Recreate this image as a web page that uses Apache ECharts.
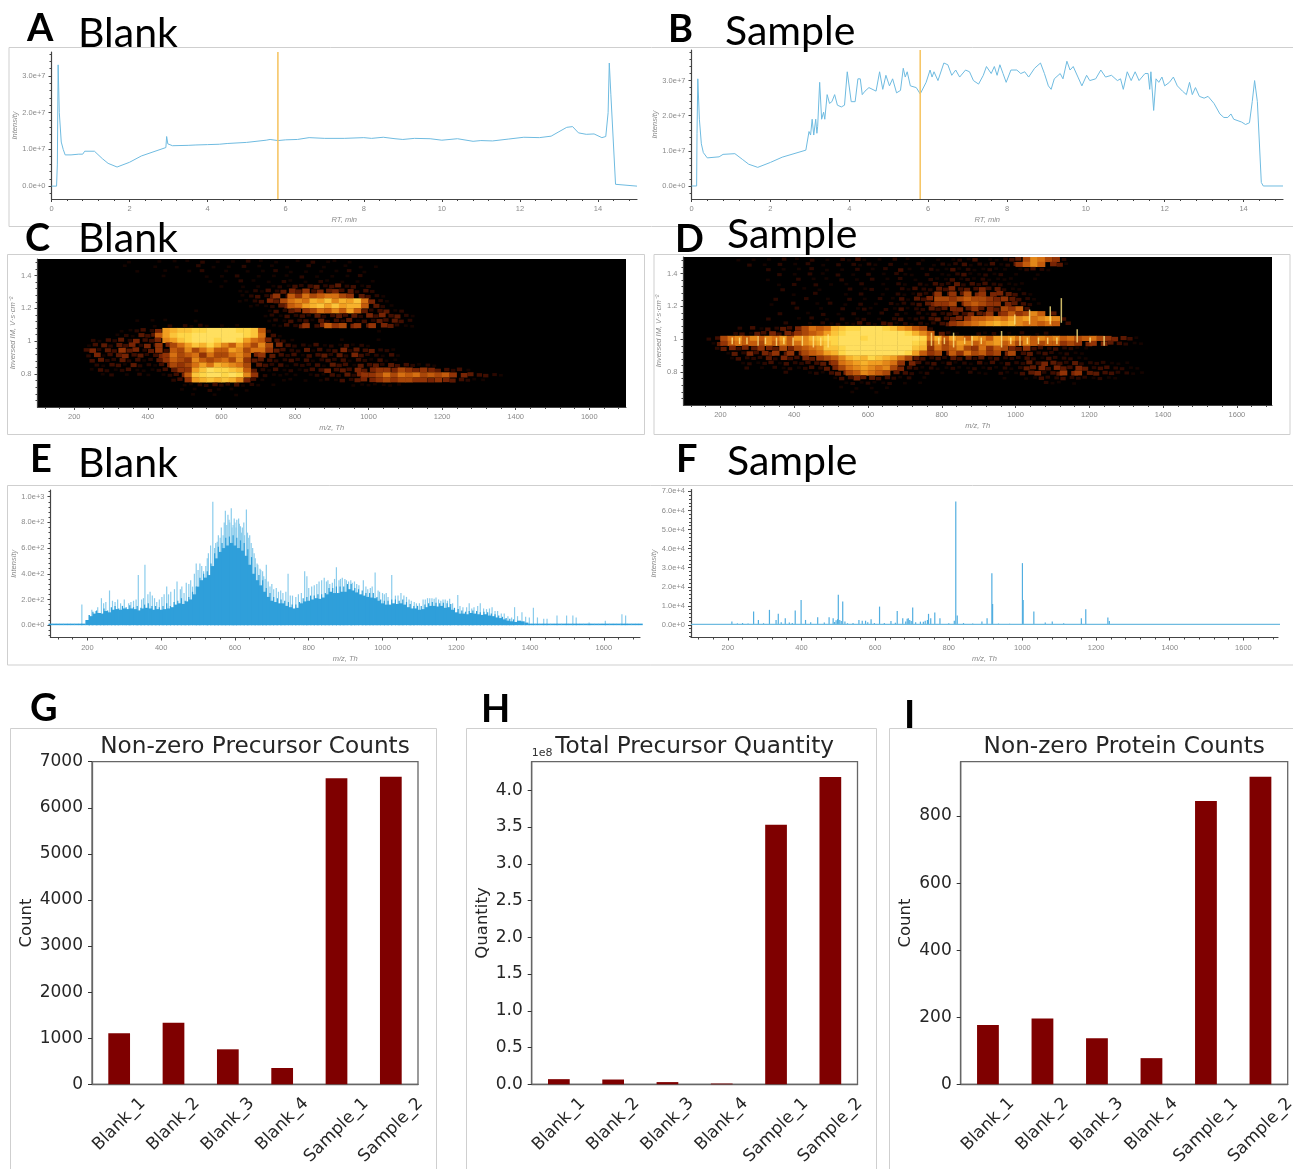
<!DOCTYPE html>
<html><head><meta charset="utf-8">
<style>html,body{margin:0;padding:0;background:#fff}#c{width:1293px;height:1169px}</style>
<script src="https://cdn.jsdelivr.net/npm/echarts@6/dist/echarts.min.js"></script>
</head><body><div id="c"></div>
<script>
// ---------- Panel A / B: total ion chromatograms [RT min, intensity in 1e7] ----------
const ticBlank = [[0,0],[0.13,0],[0.15,0.6],[0.17,3.3],[0.2,2.0],[0.25,1.2],[0.3,1.0],[0.35,0.85],[0.4,0.8],[0.5,0.85],[0.7,0.87],[0.8,0.87],[0.85,0.95],[1.1,0.95],[1.3,0.75],[1.45,0.62],[1.68,0.52],[2.0,0.65],[2.3,0.82],[2.6,0.93],[2.93,1.05],[2.95,1.35],[2.98,1.15],[3.1,1.1],[3.5,1.11],[3.7,1.12],[4,1.13],[4.3,1.14],[4.5,1.16],[5,1.19],[5.5,1.25],[5.6,1.27],[5.8,1.24],[6,1.26],[6.3,1.27],[6.6,1.32],[7,1.3],[7.5,1.3],[8,1.32],[8.2,1.3],[8.5,1.33],[8.8,1.29],[9,1.27],[9.3,1.3],[9.7,1.29],[10,1.25],[10.4,1.29],[10.8,1.22],[11,1.24],[11.3,1.23],[11.7,1.28],[12.1,1.33],[12.5,1.32],[12.8,1.36],[13,1.48],[13.2,1.6],[13.35,1.62],[13.37,1.66],[13.5,1.45],[13.7,1.41],[13.9,1.42],[14.1,1.32],[14.2,1.35],[14.26,2],[14.29,3.35],[14.33,2.5],[14.45,0.05],[14.5,0],[15,0]];
const ticSample = [[0,0],[0.13,0],[0.14,1.5],[0.16,3.05],[0.2,1.9],[0.25,1.2],[0.3,0.95],[0.4,0.8],[0.7,0.83],[0.8,0.9],[1.1,0.92],[1.3,0.75],[1.45,0.62],[1.68,0.53],[2,0.67],[2.3,0.82],[2.9,1.02],[2.93,1.05],[2.98,1.55],[3.02,1.45],[3.06,1.9],[3.1,1.45],[3.15,1.9],[3.18,1.5],[3.2,1.7],[3.25,2.95],[3.3,1.9],[3.35,2.1],[3.38,1.9],[3.44,2.6],[3.5,2.35],[3.56,2.4],[3.63,2.6],[3.7,2.3],[3.8,2.25],[3.88,2.3],[3.95,3.25],[4.05,2.4],[4.15,2.4],[4.22,3.05],[4.28,3.05],[4.33,2.6],[4.4,2.7],[4.5,2.8],[4.68,2.7],[4.77,3.25],[4.85,2.75],[4.93,3.15],[5.02,2.85],[5.1,3.05],[5.2,2.65],[5.3,2.72],[5.37,3.35],[5.42,3.1],[5.47,3.25],[5.55,2.85],[5.7,2.8],[5.8,2.62],[5.95,2.95],[6.05,3.3],[6.1,3.1],[6.15,3.25],[6.25,3.0],[6.4,3.5],[6.5,3.45],[6.6,3.15],[6.7,3.3],[6.8,3.1],[6.95,3.3],[7.05,3.25],[7.15,3.0],[7.28,2.9],[7.4,3.15],[7.48,3.4],[7.6,3.2],[7.68,3.4],[7.75,3.15],[7.82,3.45],[7.9,3.2],[7.98,2.95],[8.1,3.3],[8.25,3.3],[8.35,3.2],[8.45,3.25],[8.55,3.1],[8.7,3.35],[8.85,3.5],[8.95,3.2],[9.05,2.85],[9.12,2.75],[9.2,3.05],[9.35,3.2],[9.42,3.05],[9.52,3.55],[9.6,3.3],[9.68,3.4],[9.8,3.1],[9.9,2.85],[10.02,3.15],[10.1,3.0],[10.25,3.05],[10.38,3.3],[10.5,3.1],[10.65,3.15],[10.8,3.0],[10.88,3.05],[10.95,2.75],[11.05,3.25],[11.15,3.0],[11.25,3.25],[11.35,3.0],[11.5,3.2],[11.58,3.2],[11.62,2.75],[11.65,3.25],[11.72,2.15],[11.78,3.05],[11.85,2.95],[11.93,3.1],[12,2.85],[12.12,2.95],[12.22,3.1],[12.32,2.85],[12.45,2.7],[12.55,2.6],[12.63,2.95],[12.7,2.6],[12.78,2.8],[12.88,2.55],[13,2.5],[13.1,2.55],[13.25,2.35],[13.4,2.05],[13.5,1.95],[13.6,1.95],[13.68,2.05],[13.75,1.9],[13.95,1.82],[14.05,1.75],[14.15,1.8],[14.22,2.4],[14.28,3.0],[14.35,2.4],[14.45,0.1],[14.5,0],[15,0]];
const rtMarker = 5.8;
const rtTicks = [0,2,4,6,8,10,12,14];
const ticYTicks = [0,1,2,3];

// ---------- Panel C / D: ion mobility maps. One row per 0.03 IM from 1.50 down, one hex digit per 20 m/z from 100 ----------
const imapBlank = [
"00000 00000 00100 01010 10201 01020 10100 10201 10100 00000",
"00000 00000 01000 10010 02010 10201 01010 02010 01010 10000",
"00000 00000 00010 00100 10200 10010 10201 01010 10201 00000",
"00000 00000 00000 01000 00101 02001 01010 20101 01020 00000",
"00000 00000 00000 00000 00010 10201 01021 01021 01010 10000",
"00000 00000 00000 00000 00001 00101 01213 23423 42312 00000",
"00000 00000 00000 00000 00000 00112 13245 46354 53423 20000",
"00000 00000 00000 00000 00000 00123 24638 69789 97643 21000",
"00000 00000 00000 00000 00000 00112 35479 a9cbd acbd9 52100",
"00000 00000 00000 00000 00000 00011 12458 9bcdb dbcc8 42100",
"00000 00000 00000 00000 01000 00000 01324 56798 a8b84 23412",
"00000 00000 00000 00000 00000 00000 12132 32423 43425 35342 10000",
"00000 00000 00010 10100 01000 00000 01213 23142 32413 24343 20000",
"00000 00000 00000 10202 12101 01000 01132 46358 67564 65421 10000",
"00000 00000 01123 25bcd deeff ffeed 82000 00000 00000 01000",
"00000 00000 12143 48bde effff fffed 93100 00000 00000 00000",
"00000 00213 24253 35abd efffe ffeb9 85321 00000 01000 01000",
"00000 01342 43525 36579 bdcec a8b97 a7532 21312 13121 00000",
"00000 03524 36452 46387 a79b8 8ba79 96432 24132 35243 42210",
"00000 02513 45342 35697 89697 79a85 64323 13342 42532 21310",
"00000 00342 24231 24687 6a878 97a64 43223 23123 23132 13110",
"00000 00213 31422 13576 79b9c ba974 32312 22314 33143 42433 21210",
"00000 00132 12311 12346 6bdfe edc84 21312 12335 34354 56657 65654 32310",
"00000 00012 01021 01235 8deff efea6 21111 01213 24256 67979 89787 86543 32100",
"00000 00000 00000 00023 6bcdc dca53 10011 01012 13245 56767 76656 54321 10000",
"00000 00000 00000 00001 12232 23121 01000 00000 00111 11110 00000",
"00000 00000 00000 00001 01021 01010 00000 00000 00000",
"00000 00000 00000 00000 10010 01000 00000",
"00000", "00000"];
const imapSample = [
"00000 00101 01020 10201 02131 01020 10101 01213 01123 47a97 62000",
"00000 00020 10201 02010 20212 10201 02012 12312 13124 68a85 41000",
"00000 00000 02010 10201 01020 10203 10121 13121 12110 12321 00000",
"00000 00000 00201 02010 20102 01021 10201 12311 21201 00100",
"00000 00000 01000 20101 02010 20102 01021 13121 21111 00100",
"00000 00000 00102 00201 01020 01021 02132 24232 32211 10000",
"00000 00000 00020 01010 00201 20102 13224 35343 53421 10000",
"00000 00000 00001 00200 01020 01021 13236 46475 65543 21000",
"00000 00000 00200 02001 00201 02013 14357 76787 76564 32100",
"00000 00000 01002 00102 01020 10212 23456 67578 76654 32100",
"00000 00000 00000 20010 02012 10213 12243 45546 45476 83000",
"00000 00000 00200 01020 10201 02021 02132 34354 46568 67a84 00000",
"00000 00000 02000 10201 02012 01023 12234 34568 89a9b ab9ab a3000",
"00000 00000 00020 01021 21132 13312 12123 46789 abcbc a9989 83000",
"00000 00203 13243 57989 cdeef ffedb a8720 00000 00000 00000",
"00000 02314 35354 6789b defff fffff eca84 21002 12010 20120",
"00023 79a8a 8a9b8 bacde efffe fffff ffe9c 8ba8b a8bab 9a8a9 a8978 97654 31",
"00014 68988 7a8a8 9abcd effff fffff fed7a 79ba8 9ab89 7a878 86765 65432 11",
"00002 45354 65475 789ad defff fffff fdc69 78a76 96875 46332 32211",
"00000 14253 54646 5789b cefff fffff eb867 58697 86757 34232 12110",
"00000 01322 24253 35467 8acdc edcb9 74323 24342 42322 23213 22211",
"00000 00121 23132 23345 69abc bba96 53231 31213 13132 24354 32422 22111",
"00000 00020 10212 12324 579ab a9a75 32121 12112 12121 24453 54354 23322 11",
"00000 00000 00020 01213 4578a 98743 21201 01021 10211 34523 46564 43322 11",
"00000 00000 00000 00000 13354 43321 20100 00000 00010 01132 23222 12110",
"00000 00000 00000 00000 01212 11201 01000 00000 00000 00021 10100",
"00000 00000 00000 00000 01010 10100 00000",
"00000 00000 00000 00000 00100 10000",
"00000", "00000"];
// vertical bright streaks in panel D: [m/z, low IM, high IM]
const sampleStreaks = [[230,.97,1.01],[250,.97,1.01],[270,.97,1.01],[300,.96,1.02],[320,.97,1.01],[350,.96,1.01],[370,.97,1.01],[395,.96,1.01],[420,.96,1.02],[450,.95,1.02],[470,.96,1.01],[490,.95,1.03],[770,.96,1.04],[790,.97,1.01],[805,.97,1.01],[830,.95,1.04],[860,.97,1.01],[880,.96,1.02],[905,.97,1.01],[960,.95,1.05],[985,.97,1.01],[1010,.96,1.02],[1030,.97,1.01],[1060,.97,1.01],[1085,.97,1.01],[1110,.97,1.01],[1165,.98,1.06],[1200,.98,1.01],[1238,.96,1.02],[1036,1.09,1.18],[996,1.09,1.15],[1092,1.09,1.2],[1122,1.1,1.25]];
const mzTicks = [200,400,600,800,1000,1200,1400,1600];
const imTicks = [0.8,1,1.2,1.4];
const imLabelText = {0.8:'0.8',1:'1',1.2:'1.2',1.4:'1.4'};

// ---------- Panel E: spectrum. Solid body (every 10 m/z from 100), fine peaks (every 10 m/z from 205) and pale spikes ----------
const specBlankBody = [12,12,12,12,12,12,12,12,12,12,40,70,90,95,90,110,100,120,125,120,130,125,130,125,115,130,135,130,120,125,120,125,130,140,160,170,165,185,200,240,300,350,370,390,460,520,570,600,620,640,620,600,580,540,470,400,350,310,260,220,190,180,170,170,150,140,130,135,170,185,190,200,210,205,215,240,260,250,250,260,260,280,270,255,240,230,220,215,210,190,170,160,160,170,165,170,160,140,130,130,120,125,140,150,150,145,150,135,140,120,100,90,90,85,95,90,85,80,85,75,70,60,55,45,35,30,25,35,30,20,12,12,12,12,12,12,12,12,12,12,12,12,12,12,12,12,12,12,12,12,12,12,12,12,12,12,12,12,12,12,12];
const specBlankFine = [80,105,115,95,130,115,140,150,130,150,140,155,140,150,135,160,170,150,150,140,150,170,150,180,190,210,190,220,260,300,370,400,420,480,560,610,640,680,690,700,680,660,640,590,530,450,390,350,290,250,220,210,200,190,180,160,160,180,210,220,230,230,240,240,250,290,290,300,300,300,320,320,290,280,270,250,250,250,220,200,190,190,200,200,190,200,180,165,150,150,150,160,170,180,175,170,175,170,165,135,125,115,105,110,115,110,100,105,100,90,85,75,65,55,50,45];
const specBlankSpikes = [[185,160],[205,80],[212,120],[222,110],[228,140],[238,210],[244,170],[250,180],[260,270],[268,190],[275,180],[282,200],[290,170],[300,200],[312,170],[318,180],[325,190],[332,200],[338,390],[347,200],[352,210],[356,470],[364,240],[370,260],[376,230],[382,210],[388,180],[395,200],[402,220],[408,240],[415,300],[420,240],[426,260],[436,280],[443,340],[452,280],[456,300],[462,250],[468,330],[475,320],[480,350],[485,300],[490,400],[495,480],[500,430],[505,480],[510,460],[515,420],[521,460],[525,520],[528,560],[534,620],[540,960],[545,600],[548,640],[552,650],[555,700],[560,680],[563,760],[568,700],[571,800],[574,890],[578,780],[581,860],[584,820],[586,800],[590,910],[592,760],[595,780],[598,830],[600,800],[603,760],[605,820],[610,830],[612,790],[615,770],[618,720],[620,760],[624,800],[626,700],[631,900],[634,720],[636,680],[640,700],[644,640],[648,600],[652,560],[655,520],[660,480],[662,470],[668,440],[670,430],[675,420],[678,380],[682,360],[685,470],[690,340],[695,300],[700,320],[705,280],[712,290],[718,260],[724,270],[730,250],[738,260],[744,400],[750,230],[756,230],[765,220],[772,240],[780,250],[789,420],[795,380],[800,290],[808,300],[815,310],[822,320],[828,340],[835,350],[842,370],[848,340],[852,350],[857,320],[864,330],[870,360],[875,450],[882,350],[886,360],[891,370],[898,360],[902,350],[908,340],[914,350],[918,330],[924,340],[930,320],[936,310],[948,350],[955,300],[960,280],[967,290],[972,300],[980,410],[988,270],[992,260],[1000,250],[1005,240],[1010,250],[1015,220],[1025,390],[1035,230],[1042,230],[1050,250],[1058,230],[1065,220],[1072,200],[1078,190],[1086,180],[1092,170],[1100,170],[1110,200],[1116,200],[1122,210],[1128,210],[1134,210],[1140,205],[1145,215],[1152,200],[1158,190],[1164,200],[1170,200],[1176,190],[1182,205],[1190,170],[1204,235],[1210,150],[1218,140],[1228,140],[1235,170],[1242,130],[1248,140],[1258,150],[1265,170],[1274,130],[1282,125],[1290,130],[1297,140],[1305,110],[1312,110],[1322,90],[1330,90],[1340,70],[1350,60],[1358,140],[1366,70],[1378,100],[1388,65],[1398,60],[1409,135],[1420,60],[1437,50],[1446,50],[1473,75],[1499,75],[1516,75],[1525,60],[1560,20],[1604,35],[1649,85],[1659,75]];

// ---------- Panel F: spectrum peaks [m/z, intensity] ----------
const specSampleFloor = [[100,300],[1700,300]];
const specSamplePeaks = [[211,1750],[226,800],[240,1000],[255,700],[270,7000],[283,2600],[297,900],[313,7900],[331,2600],[337,5800],[345,1400],[356,3500],[367,1300],[375,1000],[383,7500],[399,13100],[411,2600],[425,1400],[444,4000],[462,1200],[475,4000],[486,3500],[490,1500],[494,2400],[498,3000],[500,15750],[504,2600],[508,2000],[512,12250],[518,1800],[525,900],[540,1000],[556,2600],[565,2200],[574,2200],[580,1400],[589,3000],[598,1000],[612,9600],[625,1000],[643,2000],[655,1100],[660,7350],[675,3500],[683,1800],[687,3200],[690,3500],[694,2600],[698,2000],[702,9100],[710,1400],[723,1700],[731,1700],[736,2200],[742,2600],[745,5800],[751,3500],[762,6500],[776,3500],[800,900],[815,2200],[819,64750],[823,5000],[840,1000],[865,800],[890,1750],[904,3500],[917,27100],[919,11000],[935,700],[965,600],[1000,32400],[1002,13000],[1031,7000],[1062,1200],[1081,1750],[1112,900],[1160,3500],[1172,8200],[1232,3850],[1236,2000]];

// ---------- Panels G, H, I: bars ----------
const runNames = ['Blank_1','Blank_2','Blank_3','Blank_4','Sample_1','Sample_2'];
const precursorCounts = [1106,1338,759,354,6640,6675];
const precursorQuantity = [0.07,0.065,0.03,0.01,3.53,4.18];   // x 1e8
const proteinCounts = [177,196,137,78,845,917];

// ---------- Text ----------
const headings = [
 ['A',27,29,true],['Blank',78,34,false],['B',668,30,true],['Sample',725,32,false],
 ['C',25,239,true],['Blank',78,239,false],['D',675,240,true],['Sample',727,235,false],
 ['E',30,460,true],['Blank',78,464,false],['F',676,460,true],['Sample',727,462,false],
 ['G',30,709,true],['H',481,710,true],['I',904,716,true]];
const frames = [[9,47.5,1300,179],[7.5,254.5,637,180],[654,254.5,636,180],[7.5,485.5,1300,179.5],[10.5,728.5,426,460],[466.5,728.5,410,460],[889.5,728.5,420,460]];

// ---------- Build ----------
const grids=[], xAxes=[], yAxes=[], series=[], SMALL='#8a8a8a', INK='#444';
const smallFont={fontFamily:'Liberation Sans',fontSize:7.5,color:SMALL};
function range(a,b,s){const o=[];for(let v=a;v<=b+1e-9;v+=s)o.push(+v.toFixed(4));return o;}
function instrumentPanel(box,x,y,xName,yName,yFmt,xFmt,nameGapY){
  const g=grids.length;
  grids.push({left:box[0],top:box[1],width:box[2],height:box[3],containLabel:false,outerBoundsMode:'none',
    show:!!box[4],backgroundColor:box[4]||'transparent',borderWidth:0});
  const xi=xAxes.length, yi=yAxes.length;
  const line={show:true,onZero:false,lineStyle:{color:INK,width:1.2}};
  xAxes.push({type:'value',gridIndex:g,position:'bottom',min:x.min,max:x.max,scale:true,splitLine:{show:false},axisLine:line,
    name:xName,nameLocation:'middle',nameGap:17,nameTextStyle:{...smallFont,fontStyle:'italic'},
    axisTick:{customValues:x.major,length:3,lineStyle:{color:INK}},
    axisLabel:{customValues:x.major,margin:6,...smallFont,formatter:xFmt||(v=>String(v))}});
  xAxes.push({type:'value',gridIndex:g,position:'bottom',min:x.min,max:x.max,scale:true,splitLine:{show:false},axisLine:{show:false,onZero:false},
    axisTick:{customValues:x.minor,length:2,lineStyle:{color:INK}},axisLabel:{show:false}});
  yAxes.push({type:'value',gridIndex:g,position:'left',min:y.min,max:y.max,scale:true,splitLine:{show:false},axisLine:line,
    name:yName,nameLocation:'middle',nameGap:nameGapY,nameTextStyle:{...smallFont,fontStyle:'italic'},
    axisTick:{customValues:y.major,length:3,lineStyle:{color:INK}},
    axisLabel:{customValues:y.major,margin:6,...smallFont,formatter:yFmt}});
  yAxes.push({type:'value',gridIndex:g,position:'left',min:y.min,max:y.max,scale:true,splitLine:{show:false},axisLine:{show:false,onZero:false},
    axisTick:{customValues:y.minor,length:2,lineStyle:{color:INK}},axisLabel:{show:false}});
  return {xi,yi};
}
const LINE='#6fbbe0';
function ticPanel(box,data,y){
  const a=instrumentPanel(box,{min:0,max:15,major:rtTicks,minor:range(0,15,0.4)},y,'RT, min','Intensity',v=>(v*1e7).toExponential(1),null,26);
  series.push({type:'line',xAxisIndex:a.xi,yAxisIndex:a.yi,data,showSymbol:false,symbol:'none',lineStyle:{color:LINE,width:1},z:3});
  series.push({type:'line',xAxisIndex:a.xi,yAxisIndex:a.yi,data:[[rtMarker,y.min],[rtMarker,y.max]],symbol:'none',lineStyle:{color:'#f6c667',width:1.6},z:4});
}
ticPanel([51.5,52,585.5,147],ticBlank,{min:-0.35,max:3.65,major:ticYTicks,minor:range(-0.2,3.6,0.2)});
ticPanel([691.5,50,591.5,149],ticSample,{min:-0.37,max:3.87,major:ticYTicks,minor:range(-0.2,3.8,0.2)});

const MZ_STEP=20, IM_STEP=0.03;
function parseMap(rows){
  const out=[];
  rows.forEach((r,ri)=>{
    const s=r.replace(/ /g,'');
    for(let i=0;i<s.length;i++){
      const v=parseInt(s[i],16);
      if(v>0) out.push([100+i*MZ_STEP,1.5-(ri+1)*IM_STEP,v,ri,i]);
    }
  });
  return out;
}
function renderCell(params,api){
  const a=api.coord([api.value(0),api.value(1)+IM_STEP]);
  const b=api.coord([api.value(0)+MZ_STEP,api.value(1)]);
  const v=api.value(2), ri=api.value(3), ci=api.value(4);
  const cw=b[0]-a[0], ch=b[1]-a[1];
  const f=Math.min(1.06,0.42+v/10);
  const w=cw*f,h=ch*f;
  // dots below full size are staggered so the cell lattice does not read as a grid
  const dx=f<1?(ri%2?cw/2:0)+((ci*3+ri*7)%5-2)*0.5:0;
  const dy=f<1?((ci*7+ri*3)%5-2)*0.35:0;
  return {type:'rect',shape:{x:(a[0]+b[0]-w)/2+dx,y:(a[1]+b[1]-h)/2+dy,width:w,height:h},style:{fill:api.visual('color')}};
}
function renderStreak(params,api){
  const a=api.coord([api.value(0),api.value(2)]);
  const b=api.coord([api.value(0),api.value(1)]);
  return {type:'rect',shape:{x:a[0],y:a[1],width:1.5,height:b[1]-a[1]},style:{fill:'#ffe680',opacity:.8}};
}
const mapSeries=[];
function mapPanel(box,rows,xmax,streaks){
  const a=instrumentPanel([...box,'#000'],{min:100,max:xmax,major:mzTicks,minor:range(120,xmax,40)},
    {min:0.6,max:1.5,major:imTicks,minor:range(0.64,1.48,0.04)},'m/z, Th','Inversed IM, V·s·cm⁻²',v=>imLabelText[v]||String(v),null,18);
  mapSeries.push(series.length);
  series.push({type:'custom',xAxisIndex:a.xi,yAxisIndex:a.yi,renderItem:renderCell,data:parseMap(rows),encode:{x:0,y:1},clip:true,silent:true,z:2});
  if(streaks) series.push({type:'custom',xAxisIndex:a.xi,yAxisIndex:a.yi,renderItem:renderStreak,data:streaks,encode:{x:0,y:[1,2]},clip:true,silent:true,z:3});
}
mapPanel([37.5,259,588.5,148],imapBlank,1700,null);
mapPanel([683.5,257,588.5,148],imapSample,1695,sampleStreaks);

const BLUE='#2f9fda', PALE='#8accec';
{
  const a=instrumentPanel([50.5,490,589.5,147.5],{min:100,max:1698,major:mzTicks,minor:range(120,1698,40)},
    {min:-96,max:1052,major:range(0,1000,200),minor:range(-80,1040,40)},'m/z, Th','Intensity',v=>v.toExponential(1),null,26);
  series.push({type:'bar',xAxisIndex:a.xi+1,yAxisIndex:a.yi,data:specBlankSpikes,barWidth:1.2,barGap:'-100%',itemStyle:{color:PALE},z:2});
  series.push({type:'bar',xAxisIndex:a.xi+1,yAxisIndex:a.yi,data:specBlankFine.map((v,i)=>[205+i*10,v]),barWidth:1.2,barGap:'-100%',itemStyle:{color:BLUE},z:3});
  series.push({type:'bar',xAxisIndex:a.xi,yAxisIndex:a.yi,data:specBlankBody.map((v,i)=>[100+i*10,v]),barWidth:4,itemStyle:{color:BLUE},z:4});
}
{
  const a=instrumentPanel([691,489.5,587,148],{min:100,max:1694,major:mzTicks,minor:range(120,1694,40)},
    {min:-6600,max:71000,major:range(0,70000,10000),minor:range(-6000,70000,2000)},'m/z, Th','Intensity',v=>v.toExponential(1),null,26);
  series.push({type:'bar',xAxisIndex:a.xi,yAxisIndex:a.yi,data:specSamplePeaks,barWidth:1.2,itemStyle:{color:'#52aee0'},z:3});
  series.push({type:'line',xAxisIndex:a.xi,yAxisIndex:a.yi,data:specSampleFloor,symbol:'none',lineStyle:{color:LINE,width:1.2},z:4});
}

const BORDER='#666', BF={fontFamily:'DejaVu Sans',fontSize:17,color:'#262626'};
const titles=[];
function barPanel(left,width,title,yName,values,max,interval,fmt,gap,unit){
  const g=grids.length;
  grids.push({left,top:761.7,width,height:322.6,outerBoundsMode:'none',show:true,borderColor:BORDER,borderWidth:1.3,backgroundColor:'transparent'});
  const base={type:'category',gridIndex:g,position:'bottom',data:runNames,axisLine:{onZero:false,lineStyle:{color:BORDER,width:1.3}}};
  const xi=xAxes.length;
  xAxes.push({...base,axisTick:{alignWithLabel:true,length:4,lineStyle:{color:'#333'}},
    axisLabel:{interval:0,rotate:45,align:'center',verticalAlign:'middle',margin:40,...BF,formatter:v=>v.startsWith('Blank')?v:''}});
  xAxes.push({...base,axisLine:{show:false},axisTick:{show:false},
    axisLabel:{interval:0,rotate:45,align:'center',verticalAlign:'middle',margin:46,...BF,formatter:v=>v.startsWith('Sample')?v:''}});
  const yi=yAxes.length;
  yAxes.push({type:'value',gridIndex:g,position:'left',min:0,max,interval,splitLine:{show:false},
    axisLine:{show:true,onZero:false,lineStyle:{color:BORDER,width:1.3}},
    axisTick:{show:true,length:4,lineStyle:{color:'#333'}},
    axisLabel:{...BF,margin:9,showMaxLabel:max%interval===0,formatter:fmt},
    name:yName,nameLocation:'middle',nameGap:gap,nameTextStyle:{...BF,fontSize:16.5}});
  if(unit) yAxes.push({type:'value',gridIndex:g,min:0,max,position:'left',axisLine:{show:false},axisTick:{show:false},axisLabel:{show:false},splitLine:{show:false},
    name:unit,nameLocation:'end',nameGap:3,nameTextStyle:{fontFamily:'DejaVu Sans',fontSize:11,color:'#333',align:'left'}});
  series.push({type:'bar',xAxisIndex:xi,yAxisIndex:yi,data:values,barWidth:'40%',itemStyle:{color:'#7f0000'},z:3});
  titles.push({text:title,cx:left+width/2});
}
barPanel(92,326,'Non-zero Precursor Counts','Count',precursorCounts,7000,1000,v=>String(v),57);
barPanel(531.7,325.8,'Total Precursor Quantity','Quantity',precursorQuantity,4.389,0.5,v=>v.toFixed(1),40,'1e8');
barPanel(960.7,327,'Non-zero Protein Counts','Count',proteinCounts,962,200,v=>String(v),46);

const graphics=[];
frames.forEach(f=>graphics.push({type:'rect',z:0,shape:{x:f[0],y:f[1],width:f[2],height:f[3]},style:{fill:'none',stroke:'#cfcfcf',lineWidth:1},silent:true}));
headings.forEach(h=>graphics.push({type:'text',z:50,x:h[1],y:h[2],silent:true,style:{text:h[0],fill:'#000',
  font:(h[3]?'bold 38px':'41px')+' Lato',textVerticalAlign:'middle',textAlign:'left'}}));
titles.forEach(t=>graphics.push({type:'text',z:50,x:t.cx,y:747,silent:true,style:{text:t.text,fill:'#262626',
  font:'23.2px "DejaVu Sans"',textVerticalAlign:'middle',textAlign:'center'}}));

const chart=echarts.init(document.getElementById('c'),null,{renderer:'canvas'});
chart.setOption({
  animation:false,backgroundColor:'#fff',
  grid:grids,xAxis:xAxes,yAxis:yAxes,series,graphic:graphics,
  visualMap:{show:false,seriesIndex:mapSeries,dimension:2,min:0,max:17,
    inRange:{color:['#000000','#3c0c00','#8a2c05','#cf650e','#f5a623','#ffd94a','#ffef90']}}
});
</script></body></html>
